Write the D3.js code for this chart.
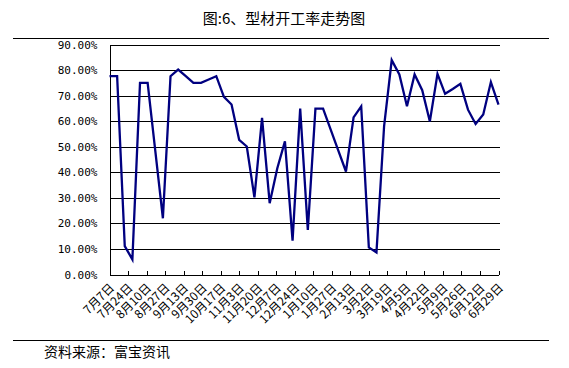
<!DOCTYPE html>
<html><head><meta charset="utf-8">
<script src="https://cdn.jsdelivr.net/npm/d3@7"></script>
<style>body{margin:0;background:#fff}svg{display:block}</style>
</head><body>
<svg id="c" width="569" height="368"></svg>
<script>
const titleText = "图:6、型材开工率走势图";
const sourceText = "资料来源：富宝资讯";
const dates = ["2013-07-07","2013-07-14","2013-07-21","2013-07-28","2013-08-04","2013-08-11","2013-08-18","2013-08-25",
"2013-09-01","2013-09-08","2013-09-15","2013-09-22","2013-09-29","2013-10-06","2013-10-13","2013-10-20","2013-10-27",
"2013-11-03","2013-11-10","2013-11-17","2013-11-24","2013-12-01","2013-12-08","2013-12-15","2013-12-22","2013-12-29",
"2014-01-05","2014-01-12","2014-01-19","2014-01-26","2014-02-02","2014-02-09","2014-02-16","2014-02-23",
"2014-03-02","2014-03-09","2014-03-16","2014-03-23","2014-03-30","2014-04-06","2014-04-13","2014-04-20","2014-04-27",
"2014-05-04","2014-05-11","2014-05-18","2014-05-25","2014-06-01","2014-06-08","2014-06-15","2014-06-22","2014-06-29"];
const values = [77.6,77.6,11.1,5.9,75.0,75.0,48.5,22.0,77.6,80.2,77.6,75.0,75.0,76.3,77.6,69.5,66.5,52.7,50.1,30.2,
61.3,27.9,41.6,52.1,13.2,64.9,17.4,64.9,64.9,56.7,48.5,40.3,61.5,65.8,10.6,8.6,58.0,83.9,78.3,65.8,78.3,72.1,59.9,
78.5,70.7,72.6,74.6,64.5,58.9,62.6,75.3,66.5];
const tickDates = ["2013-07-07","2013-07-24","2013-08-10","2013-08-27","2013-09-13","2013-09-30","2013-10-17","2013-11-03",
"2013-11-20","2013-12-07","2013-12-24","2014-01-10","2014-01-27","2014-02-13","2014-03-02","2014-03-19","2014-04-05",
"2014-04-22","2014-05-09","2014-05-26","2014-06-12","2014-06-29"];
const yTicks = [0,10,20,30,40,50,60,70,80,90];

const parse = d3.utcParse("%Y-%m-%d");
const fmt = d3.utcFormat("%-m月%-d日");
const data = dates.map((d,i)=>({date:parse(d), v:values[i]}));
const svg = d3.select("#c");
svg.append("rect").attr("width",569).attr("height",368).attr("fill","#fff");

const L=109.5, R=499, T=44.5, B=274.5;
const x = d3.scaleUtc().domain([parse(dates[0]), parse(dates[dates.length-1])]).range([L, R-0.5]);
const y = d3.scaleLinear().domain([0,90]).range([B,T]);

// title & rules
svg.append("text").attr("x",284).attr("y",24).attr("text-anchor","middle")
  .attr("font-family","'Noto Sans CJK SC', sans-serif").attr("font-size",15).attr("fill","#000").text(titleText);
svg.append("line").attr("x1",13).attr("x2",549).attr("y1",38.5).attr("y2",38.5).attr("stroke","#000").attr("stroke-width",1);
svg.append("line").attr("x1",13).attr("x2",549).attr("y1",340.5).attr("y2",340.5).attr("stroke","#000").attr("stroke-width",1);
svg.append("text").attr("x",44).attr("y",357)
  .attr("font-family","'Noto Sans CJK SC', sans-serif").attr("font-size",14).attr("fill","#000").text(sourceText);

// gridlines
svg.append("g").selectAll("line").data(yTicks.slice(1)).join("line")
  .attr("x1",L).attr("x2",R+1).attr("y1",d=>Math.round(y(d))+0.5).attr("y2",d=>Math.round(y(d))+0.5)
  .attr("stroke","#000").attr("stroke-width",1).attr("shape-rendering","crispEdges");

// y axis
const yAxis = d3.axisLeft(y).tickValues(yTicks).tickSize(0).tickPadding(12).tickFormat(d=>d3.format(".2f")(d)+"%");
const gy = svg.append("g").attr("transform",`translate(${L},0)`).call(yAxis);
gy.select(".domain").attr("stroke","#000").attr("shape-rendering","crispEdges");
gy.selectAll("text").attr("font-family","'DejaVu Sans Mono', monospace").attr("font-size",11).attr("fill","#000");

// x axis
const xAxis = d3.axisBottom(x).tickValues(tickDates.map(parse)).tickSize(-4).tickSizeOuter(0).tickFormat(fmt);
const gx = svg.append("g").attr("transform",`translate(0,${B})`).call(xAxis);
gx.select(".domain").attr("stroke","#000").attr("shape-rendering","crispEdges");
gx.selectAll(".tick line").attr("stroke","#000").attr("shape-rendering","crispEdges");
gx.selectAll("text").attr("font-family","'Noto Sans CJK SC', sans-serif").attr("font-size",12).attr("fill","#000")
  .attr("text-anchor","end").attr("dy",null).attr("y",null)
  .attr("transform","translate(5,14) rotate(-45)");

// line
svg.append("path").datum(data)
  .attr("d", d3.line().x(d=>x(d.date)).y(d=>y(d.v)))
  .attr("fill","none").attr("stroke","#000080").attr("stroke-width",2.3).attr("stroke-linejoin","miter");
</script>
</body></html>
